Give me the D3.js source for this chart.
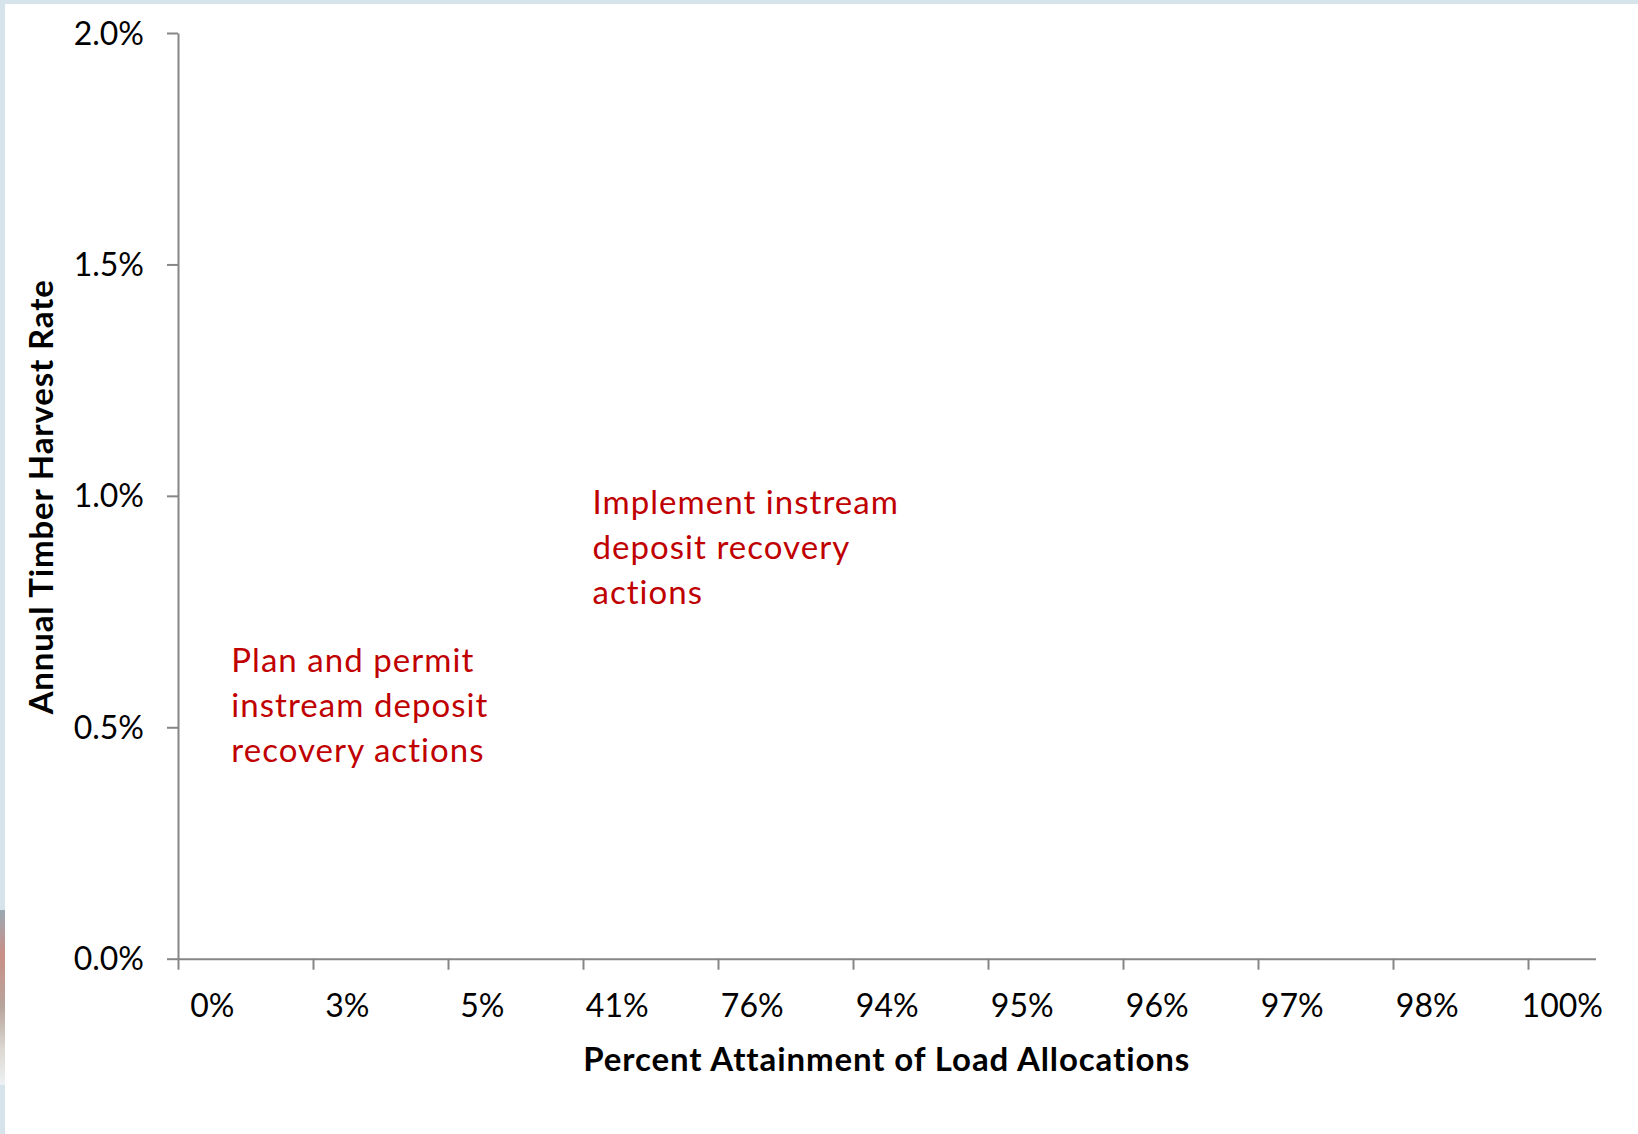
<!DOCTYPE html>
<html>
<head>
<meta charset="utf-8">
<script src="https://cdn.jsdelivr.net/npm/d3@7"></script>
<style>
  html, body { margin: 0; padding: 0; background: #fff; }
  svg { display: block; }
  .tick text { font-family: Lato, "Open Sans", sans-serif; font-size: 32px; fill: #000; }
</style>
</head>
<body>
<svg id="chart" width="1638" height="1134"></svg>
<script>
// category labels on the x axis (one per labelled tick)
const xLabels = ["0%", "3%", "5%", "41%", "76%", "94%", "95%", "96%", "97%", "98%", "100%"]
// y axis ticks (fraction)
const yTicks = [0, 0.005, 0.01, 0.015, 0.02]
const yMax = 0.02

// red text boxes, anchored in axis units (x: tick index, y: rate)
const notes = [
  { x: 3.07, y: 0.0096, lines: ["Implement instream", "deposit recovery", "actions"] },
  { x: 0.395, y: 0.0062, lines: ["Plan and permit", "instream deposit", "recovery actions"] },
]

const xTitle = "Percent Attainment of Load Allocations"
const yTitle = "Annual Timber Harvest Rate"

const svg = d3.select("#chart")
const plotLeft = 178, plotRight = 1595.5, plotTop = 33, plotBottom = 958.7
const axisColor = "#868686"

// slide frame bits at the edges
svg.append("rect").attr("x", 0).attr("y", 0).attr("width", 1638).attr("height", 4).attr("fill", "#d7e3ea")
svg.append("rect").attr("x", 0).attr("y", 0).attr("width", 5).attr("height", 1134).attr("fill", "#d7e3ea")
const strip = svg.append("defs").append("linearGradient").attr("id", "strip").attr("x1", 0).attr("y1", 0).attr("x2", 0).attr("y2", 1)
;[["0%", "#9aa9b4"], ["25%", "#c98f86"], ["55%", "#b7a49c"], ["80%", "#dcd8d2"], ["100%", "#eef2f4"]]
  .forEach(([o, c]) => strip.append("stop").attr("offset", o).attr("stop-color", c))
svg.append("rect").attr("x", 0).attr("y", 910).attr("width", 5).attr("height", 175).attr("fill", "url(#strip)")

const x = d3.scaleLinear().domain([0, 10.5]).range([plotLeft, plotRight])
const y = d3.scaleLinear().domain([0, yMax]).range([plotBottom, plotTop])
const halfBand = (x(1) - x(0)) / 4

const xAxis = svg.append("g")
  .attr("transform", `translate(0,${plotBottom})`)
  .call(d3.axisBottom(x)
    .tickValues(d3.range(xLabels.length))
    .tickFormat((i) => xLabels[i])
    .tickSize(11)
    .tickSizeOuter(0))
xAxis.selectAll("text").attr("dx", halfBand).attr("y", 0).attr("dy", 58)

const yAxis = svg.append("g")
  .attr("transform", `translate(${plotLeft},0)`)
  .call(d3.axisLeft(y)
    .tickValues(yTicks)
    .tickFormat(d3.format(".1%"))
    .tickSize(11)
    .tickSizeOuter(0))
yAxis.selectAll("text").attr("x", -34).attr("dy", 11)

svg.selectAll(".domain, .tick line")
  .attr("stroke", axisColor)
  .attr("stroke-width", 2)

// axis titles
svg.append("text")
  .attr("x", (plotLeft + plotRight) / 2)
  .attr("y", 1071)
  .attr("text-anchor", "middle")
  .attr("font-family", "Lato, sans-serif")
  .attr("font-weight", "bold")
  .attr("font-size", 33)
  .attr("letter-spacing", 0.9)
  .text(xTitle)

svg.append("text")
  .attr("transform", `translate(53,${(plotTop + plotBottom) / 2 + 1}) rotate(-90)`)
  .attr("text-anchor", "middle")
  .attr("font-family", "Lato, sans-serif")
  .attr("font-weight", "bold")
  .attr("font-size", 33)
  .attr("letter-spacing", 0.85)
  .text(yTitle)

// annotations
const noteGroups = svg.selectAll(".note")
  .data(notes)
  .enter()
  .append("text")
  .classed("note", true)
  .attr("x", (d) => x(d.x))
  .attr("y", (d) => y(d.y))
  .attr("font-family", "Lato, sans-serif")
  .attr("font-size", 33)
  .attr("letter-spacing", 1.05)
  .attr("fill", "#c00000")
noteGroups.selectAll("tspan")
  .data((d) => d.lines.map((line) => ({ line, x: x(d.x) })))
  .enter()
  .append("tspan")
  .attr("x", (t) => t.x)
  .attr("dy", (t, i) => i === 0 ? 0 : 45)
  .text((t) => t.line)
</script>
</body>
</html>
